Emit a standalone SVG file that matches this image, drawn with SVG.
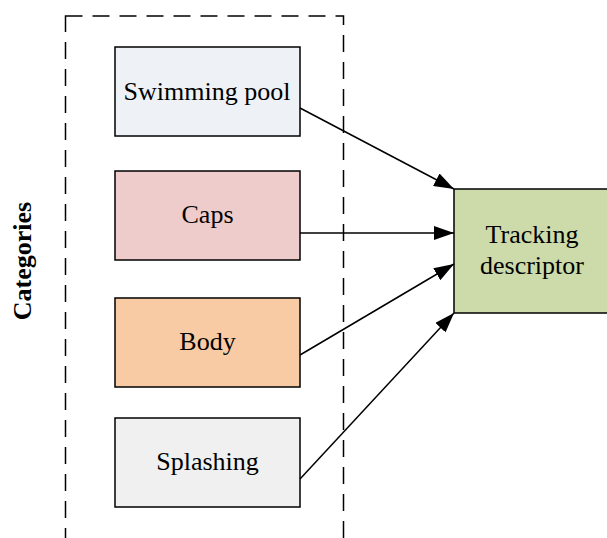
<svg xmlns="http://www.w3.org/2000/svg" width="607" height="538" viewBox="0 0 607 538">
<style>
.box{stroke:#000;stroke-width:1.5}
.lbl{font-family:"Liberation Serif","Times New Roman",serif;font-size:26px;fill:#000;text-anchor:middle}
.conn{stroke:#000;stroke-width:1.5;fill:none;marker-end:url(#arr)}
</style>
<defs>
<marker id="arr" viewBox="0 0 20 14" refX="20" refY="7" markerWidth="20" markerHeight="14" markerUnits="userSpaceOnUse" orient="auto">
<path d="M0,0 L20,7 L0,14 Z" fill="#000"/>
</marker>
</defs>
<rect x="0" y="0" width="607" height="538" fill="#fff"/>
<g id="categories-group">
<rect x="65.5" y="16" width="278" height="540" fill="none" stroke="#000" stroke-width="1.5" stroke-dasharray="17 10"/>
<text class="lbl" font-weight="bold" transform="translate(31,261) rotate(-90)">Categories</text>
</g>
<g id="node-pool">
<rect class="box" x="115" y="47" width="185" height="89" fill="#EEF1F6"/>
<text class="lbl" x="207" y="100">Swimming pool</text>
</g>
<g id="node-caps">
<rect class="box" x="115" y="171" width="185" height="89" fill="#EECCCC"/>
<text class="lbl" x="207.5" y="223">Caps</text>
</g>
<g id="node-body">
<rect class="box" x="115" y="298" width="185" height="89" fill="#F9CBA5"/>
<text class="lbl" x="207.5" y="350">Body</text>
</g>
<g id="node-splashing">
<rect class="box" x="115" y="418" width="185" height="89" fill="#F0F0F0"/>
<text class="lbl" x="207.5" y="470">Splashing</text>
</g>
<g id="node-tracking">
<rect class="box" x="454" y="189" width="156" height="124" fill="#CCDBA9"/>
<text class="lbl" x="532" y="243">Tracking</text>
<text class="lbl" x="532" y="274">descriptor</text>
</g>
<g id="connectors">
<line class="conn" x1="300" y1="108" x2="454" y2="189"/>
<line class="conn" x1="300" y1="233" x2="454" y2="233"/>
<line class="conn" x1="300" y1="355" x2="454" y2="264"/>
<line class="conn" x1="300" y1="479" x2="454" y2="313"/>
</g>
</svg>
